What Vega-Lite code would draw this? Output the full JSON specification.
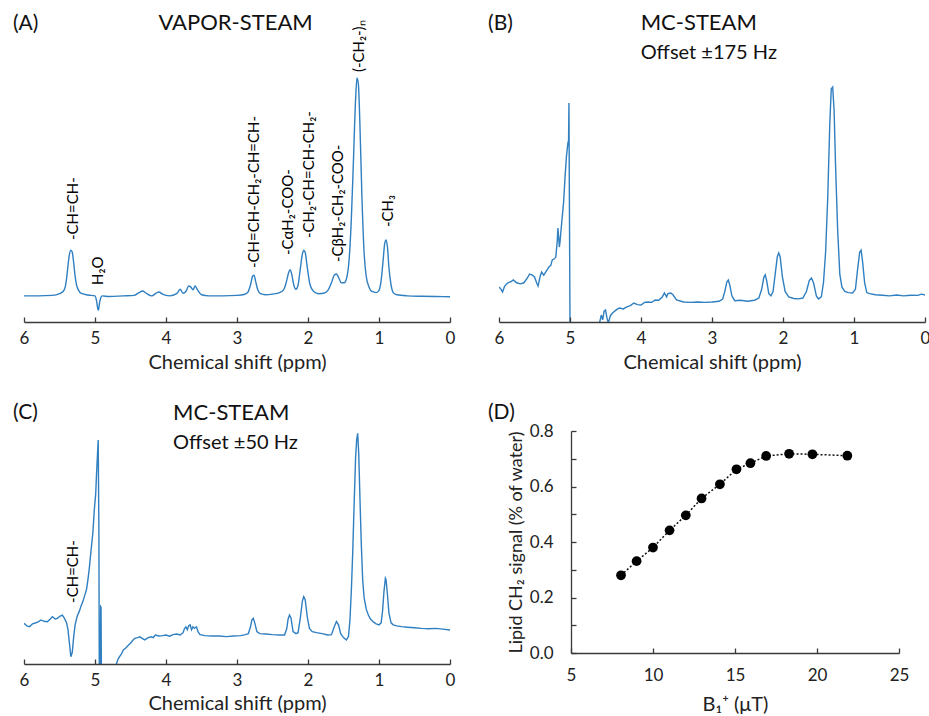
{
  "$schema": "https://vega.github.io/schema/vega-lite/v6.json",
  "padding": {"left": 12, "top": 5, "right": 0, "bottom": 0},
  "background": "white",
  "spacing": 29,
  "config": {
    "font": "Lato",
    "view": {"stroke": null},
    "axis": {"domainColor": "#3a3a3a", "tickColor": "#3a3a3a", "labelColor": "#222222", "titleColor": "#222222", "labelFontSize": 17, "titleFontSize": 20, "titleFontWeight": "normal", "grid": false, "domainWidth": 1.3, "tickWidth": 1.3, "labelFlush": false}
  },
  "datasets": {
    "specA": [
      {"ppm":6.0,"s":0.0},{"ppm":5.8,"s":0.0},{"ppm":5.6,"s":0.002},{"ppm":5.5,"s":0.01},{"ppm":5.45,"s":0.02},{"ppm":5.42,"s":0.04},{"ppm":5.4,"s":0.08},{"ppm":5.38,"s":0.14},{"ppm":5.36,"s":0.19},{"ppm":5.34,"s":0.21},{"ppm":5.32,"s":0.2},{"ppm":5.3,"s":0.15},{"ppm":5.28,"s":0.09},{"ppm":5.26,"s":0.05},{"ppm":5.23,"s":0.025},{"ppm":5.2,"s":0.012},{"ppm":5.1,"s":0.004},{"ppm":5.0,"s":0.0},{"ppm":4.98,"s":-0.02},{"ppm":4.96,"s":-0.06},{"ppm":4.95,"s":-0.065},{"ppm":4.94,"s":-0.04},{"ppm":4.92,"s":-0.01},{"ppm":4.9,"s":0.0},{"ppm":4.8,"s":-0.003},{"ppm":4.6,"s":0.0},{"ppm":4.45,"s":0.002},{"ppm":4.38,"s":0.015},{"ppm":4.33,"s":0.022},{"ppm":4.28,"s":0.012},{"ppm":4.2,"s":0.0},{"ppm":4.14,"s":0.012},{"ppm":4.1,"s":0.018},{"ppm":4.05,"s":0.008},{"ppm":3.95,"s":0.0},{"ppm":3.85,"s":0.01},{"ppm":3.8,"s":0.03},{"ppm":3.76,"s":0.012},{"ppm":3.72,"s":0.02},{"ppm":3.68,"s":0.045},{"ppm":3.65,"s":0.04},{"ppm":3.62,"s":0.028},{"ppm":3.59,"s":0.045},{"ppm":3.56,"s":0.03},{"ppm":3.5,"s":0.005},{"ppm":3.4,"s":0.0},{"ppm":3.2,"s":0.0},{"ppm":3.0,"s":0.002},{"ppm":2.9,"s":0.006},{"ppm":2.85,"s":0.015},{"ppm":2.81,"s":0.05},{"ppm":2.78,"s":0.09},{"ppm":2.76,"s":0.095},{"ppm":2.74,"s":0.07},{"ppm":2.71,"s":0.03},{"ppm":2.67,"s":0.01},{"ppm":2.6,"s":0.005},{"ppm":2.5,"s":0.008},{"ppm":2.4,"s":0.015},{"ppm":2.34,"s":0.03},{"ppm":2.3,"s":0.07},{"ppm":2.27,"s":0.11},{"ppm":2.25,"s":0.12},{"ppm":2.23,"s":0.1},{"ppm":2.2,"s":0.05},{"ppm":2.17,"s":0.03},{"ppm":2.14,"s":0.05},{"ppm":2.11,"s":0.12},{"ppm":2.08,"s":0.19},{"ppm":2.06,"s":0.21},{"ppm":2.04,"s":0.2},{"ppm":2.01,"s":0.13},{"ppm":1.97,"s":0.05},{"ppm":1.92,"s":0.02},{"ppm":1.85,"s":0.01},{"ppm":1.78,"s":0.012},{"ppm":1.72,"s":0.025},{"ppm":1.67,"s":0.06},{"ppm":1.63,"s":0.095},{"ppm":1.6,"s":0.1},{"ppm":1.57,"s":0.085},{"ppm":1.53,"s":0.06},{"ppm":1.49,"s":0.06},{"ppm":1.45,"s":0.09},{"ppm":1.42,"s":0.17},{"ppm":1.39,"s":0.35},{"ppm":1.36,"s":0.62},{"ppm":1.33,"s":0.9},{"ppm":1.31,"s":1.0},{"ppm":1.29,"s":0.97},{"ppm":1.27,"s":0.8},{"ppm":1.24,"s":0.45},{"ppm":1.21,"s":0.2},{"ppm":1.18,"s":0.09},{"ppm":1.14,"s":0.04},{"ppm":1.1,"s":0.02},{"ppm":1.04,"s":0.015},{"ppm":1.0,"s":0.025},{"ppm":0.97,"s":0.07},{"ppm":0.94,"s":0.17},{"ppm":0.92,"s":0.24},{"ppm":0.9,"s":0.257},{"ppm":0.88,"s":0.22},{"ppm":0.86,"s":0.13},{"ppm":0.83,"s":0.05},{"ppm":0.8,"s":0.015},{"ppm":0.75,"s":0.005},{"ppm":0.6,"s":0.0},{"ppm":0.4,"s":-0.002},{"ppm":0.2,"s":-0.003},{"ppm":0.0,"s":-0.004}
    ],
    "specB": [
      {"ppm":6.0,"s":0.041},{"ppm":5.97,"s":0.03},{"ppm":5.95,"s":0.018},{"ppm":5.92,"s":0.045},{"ppm":5.88,"s":0.059},{"ppm":5.83,"s":0.065},{"ppm":5.8,"s":0.073},{"ppm":5.75,"s":0.06},{"ppm":5.7,"s":0.055},{"ppm":5.65,"s":0.06},{"ppm":5.6,"s":0.082},{"ppm":5.57,"s":0.1},{"ppm":5.53,"s":0.095},{"ppm":5.5,"s":0.087},{"ppm":5.47,"s":0.06},{"ppm":5.45,"s":0.045},{"ppm":5.42,"s":0.09},{"ppm":5.4,"s":0.109},{"ppm":5.37,"s":0.095},{"ppm":5.35,"s":0.105},{"ppm":5.32,"s":0.12},{"ppm":5.3,"s":0.132},{"ppm":5.27,"s":0.14},{"ppm":5.25,"s":0.165},{"ppm":5.22,"s":0.17},{"ppm":5.2,"s":0.178},{"ppm":5.18,"s":0.25},{"ppm":5.17,"s":0.311},{"ppm":5.16,"s":0.27},{"ppm":5.15,"s":0.224},{"ppm":5.14,"s":0.25},{"ppm":5.13,"s":0.288},{"ppm":5.11,"s":0.36},{"ppm":5.09,"s":0.43},{"ppm":5.07,"s":0.545},{"ppm":5.05,"s":0.64},{"ppm":5.03,"s":0.7},{"ppm":5.02,"s":0.715},{"ppm":5.015,"s":0.885},{"ppm":5.0,"s":-0.135},{"ppm":4.6,"s":-0.135},{"ppm":4.58,"s":-0.118},{"ppm":4.56,"s":-0.088},{"ppm":4.54,"s":-0.11},{"ppm":4.52,"s":-0.07},{"ppm":4.5,"s":-0.065},{"ppm":4.48,"s":-0.1},{"ppm":4.46,"s":-0.125},{"ppm":4.43,"s":-0.09},{"ppm":4.4,"s":-0.079},{"ppm":4.37,"s":-0.07},{"ppm":4.33,"s":-0.06},{"ppm":4.3,"s":-0.056},{"ppm":4.25,"s":-0.06},{"ppm":4.2,"s":-0.051},{"ppm":4.15,"s":-0.045},{"ppm":4.1,"s":-0.033},{"ppm":4.05,"s":-0.04},{"ppm":4.0,"s":-0.042},{"ppm":3.95,"s":-0.03},{"ppm":3.9,"s":-0.028},{"ppm":3.85,"s":-0.03},{"ppm":3.8,"s":-0.019},{"ppm":3.75,"s":-0.02},{"ppm":3.7,"s":-0.005},{"ppm":3.67,"s":0.013},{"ppm":3.64,"s":-0.005},{"ppm":3.62,"s":0.01},{"ppm":3.58,"s":0.013},{"ppm":3.55,"s":0.005},{"ppm":3.5,"s":-0.019},{"ppm":3.4,"s":-0.028},{"ppm":3.3,"s":-0.03},{"ppm":3.2,"s":-0.028},{"ppm":3.1,"s":-0.03},{"ppm":3.0,"s":-0.028},{"ppm":2.9,"s":-0.025},{"ppm":2.85,"s":-0.015},{"ppm":2.82,"s":0.02},{"ppm":2.79,"s":0.065},{"ppm":2.77,"s":0.073},{"ppm":2.75,"s":0.05},{"ppm":2.72,"s":0.0},{"ppm":2.68,"s":-0.022},{"ppm":2.6,"s":-0.02},{"ppm":2.5,"s":-0.025},{"ppm":2.4,"s":-0.02},{"ppm":2.34,"s":-0.01},{"ppm":2.3,"s":0.03},{"ppm":2.27,"s":0.085},{"ppm":2.25,"s":0.096},{"ppm":2.23,"s":0.07},{"ppm":2.2,"s":0.01},{"ppm":2.17,"s":0.0},{"ppm":2.14,"s":0.02},{"ppm":2.11,"s":0.1},{"ppm":2.08,"s":0.18},{"ppm":2.06,"s":0.197},{"ppm":2.04,"s":0.18},{"ppm":2.01,"s":0.09},{"ppm":1.97,"s":0.02},{"ppm":1.92,"s":-0.005},{"ppm":1.85,"s":-0.012},{"ppm":1.78,"s":-0.014},{"ppm":1.72,"s":-0.01},{"ppm":1.67,"s":0.02},{"ppm":1.63,"s":0.07},{"ppm":1.6,"s":0.082},{"ppm":1.57,"s":0.06},{"ppm":1.53,"s":0.0},{"ppm":1.5,"s":-0.014},{"ppm":1.46,"s":-0.005},{"ppm":1.43,"s":0.06},{"ppm":1.4,"s":0.2},{"ppm":1.37,"s":0.45},{"ppm":1.34,"s":0.8},{"ppm":1.32,"s":0.95},{"ppm":1.3,"s":0.958},{"ppm":1.28,"s":0.85},{"ppm":1.26,"s":0.6},{"ppm":1.23,"s":0.3},{"ppm":1.2,"s":0.1},{"ppm":1.17,"s":0.04},{"ppm":1.13,"s":0.02},{"ppm":1.08,"s":0.015},{"ppm":1.02,"s":0.013},{"ppm":0.98,"s":0.03},{"ppm":0.95,"s":0.12},{"ppm":0.92,"s":0.2},{"ppm":0.9,"s":0.21},{"ppm":0.88,"s":0.16},{"ppm":0.85,"s":0.06},{"ppm":0.82,"s":0.015},{"ppm":0.78,"s":0.01},{"ppm":0.7,"s":0.005},{"ppm":0.6,"s":0.003},{"ppm":0.5,"s":0.0},{"ppm":0.4,"s":0.004},{"ppm":0.3,"s":0.0},{"ppm":0.2,"s":0.003},{"ppm":0.1,"s":0.002},{"ppm":0.05,"s":0.008},{"ppm":0.0,"s":0.004}
    ],
    "specC": [
      {"ppm":6.0,"s":0.038},{"ppm":5.96,"s":0.025},{"ppm":5.92,"s":0.021},{"ppm":5.88,"s":0.035},{"ppm":5.85,"s":0.038},{"ppm":5.8,"s":0.045},{"ppm":5.76,"s":0.055},{"ppm":5.72,"s":0.048},{"ppm":5.67,"s":0.046},{"ppm":5.63,"s":0.06},{"ppm":5.6,"s":0.072},{"ppm":5.56,"s":0.06},{"ppm":5.53,"s":0.063},{"ppm":5.49,"s":0.075},{"ppm":5.46,"s":0.08},{"ppm":5.43,"s":0.063},{"ppm":5.4,"s":0.04},{"ppm":5.38,"s":0.004},{"ppm":5.36,"s":-0.064},{"ppm":5.34,"s":-0.133},{"ppm":5.32,"s":-0.11},{"ppm":5.3,"s":-0.03},{"ppm":5.28,"s":0.03},{"ppm":5.25,"s":0.075},{"ppm":5.22,"s":0.1},{"ppm":5.2,"s":0.123},{"ppm":5.17,"s":0.15},{"ppm":5.15,"s":0.174},{"ppm":5.12,"s":0.21},{"ppm":5.1,"s":0.26},{"ppm":5.08,"s":0.32},{"ppm":5.06,"s":0.395},{"ppm":5.03,"s":0.5},{"ppm":5.01,"s":0.616},{"ppm":4.99,"s":0.7},{"ppm":4.98,"s":0.787},{"ppm":4.965,"s":0.9},{"ppm":4.955,"s":0.974},{"ppm":4.945,"s":0.5},{"ppm":4.94,"s":-0.185},{"ppm":4.925,"s":-0.185},{"ppm":4.92,"s":0.123},{"ppm":4.915,"s":0.12},{"ppm":4.91,"s":-0.185},{"ppm":4.71,"s":-0.185},{"ppm":4.69,"s":-0.16},{"ppm":4.67,"s":-0.141},{"ppm":4.63,"s":-0.12},{"ppm":4.6,"s":-0.098},{"ppm":4.57,"s":-0.09},{"ppm":4.55,"s":-0.082},{"ppm":4.52,"s":-0.07},{"ppm":4.5,"s":-0.064},{"ppm":4.47,"s":-0.05},{"ppm":4.44,"s":-0.039},{"ppm":4.4,"s":-0.035},{"ppm":4.37,"s":-0.031},{"ppm":4.33,"s":-0.04},{"ppm":4.3,"s":-0.047},{"ppm":4.25,"s":-0.035},{"ppm":4.21,"s":-0.031},{"ppm":4.18,"s":-0.035},{"ppm":4.15,"s":-0.022},{"ppm":4.1,"s":-0.027},{"ppm":4.05,"s":-0.025},{"ppm":4.0,"s":-0.022},{"ppm":3.95,"s":-0.028},{"ppm":3.9,"s":-0.02},{"ppm":3.85,"s":-0.017},{"ppm":3.8,"s":-0.022},{"ppm":3.76,"s":-0.01},{"ppm":3.74,"s":0.01},{"ppm":3.72,"s":0.02},{"ppm":3.7,"s":0.005},{"ppm":3.68,"s":0.025},{"ppm":3.66,"s":0.03},{"ppm":3.64,"s":0.005},{"ppm":3.62,"s":0.02},{"ppm":3.6,"s":0.012},{"ppm":3.57,"s":0.02},{"ppm":3.55,"s":-0.005},{"ppm":3.52,"s":-0.02},{"ppm":3.45,"s":-0.025},{"ppm":3.35,"s":-0.027},{"ppm":3.25,"s":-0.027},{"ppm":3.15,"s":-0.03},{"ppm":3.05,"s":-0.027},{"ppm":2.95,"s":-0.025},{"ppm":2.88,"s":-0.02},{"ppm":2.84,"s":-0.015},{"ppm":2.81,"s":0.02},{"ppm":2.79,"s":0.055},{"ppm":2.77,"s":0.063},{"ppm":2.75,"s":0.04},{"ppm":2.72,"s":-0.005},{"ppm":2.68,"s":-0.015},{"ppm":2.6,"s":-0.017},{"ppm":2.5,"s":-0.02},{"ppm":2.4,"s":-0.022},{"ppm":2.33,"s":-0.022},{"ppm":2.3,"s":0.01},{"ppm":2.28,"s":0.06},{"ppm":2.26,"s":0.08},{"ppm":2.24,"s":0.065},{"ppm":2.21,"s":-0.005},{"ppm":2.17,"s":-0.015},{"ppm":2.14,"s":-0.01},{"ppm":2.11,"s":0.06},{"ppm":2.08,"s":0.15},{"ppm":2.06,"s":0.174},{"ppm":2.04,"s":0.16},{"ppm":2.01,"s":0.07},{"ppm":1.98,"s":0.012},{"ppm":1.94,"s":-0.005},{"ppm":1.88,"s":-0.01},{"ppm":1.8,"s":-0.015},{"ppm":1.72,"s":-0.022},{"ppm":1.67,"s":-0.02},{"ppm":1.63,"s":0.02},{"ppm":1.6,"s":0.047},{"ppm":1.57,"s":0.03},{"ppm":1.54,"s":-0.015},{"ppm":1.5,"s":-0.035},{"ppm":1.46,"s":-0.047},{"ppm":1.43,"s":-0.03},{"ppm":1.41,"s":0.05},{"ppm":1.39,"s":0.2},{"ppm":1.37,"s":0.4},{"ppm":1.35,"s":0.65},{"ppm":1.33,"s":0.88},{"ppm":1.315,"s":0.974},{"ppm":1.3,"s":1.008},{"ppm":1.285,"s":0.9},{"ppm":1.27,"s":0.7},{"ppm":1.25,"s":0.45},{"ppm":1.23,"s":0.26},{"ppm":1.21,"s":0.17},{"ppm":1.18,"s":0.11},{"ppm":1.15,"s":0.08},{"ppm":1.12,"s":0.06},{"ppm":1.08,"s":0.045},{"ppm":1.04,"s":0.035},{"ppm":1.0,"s":0.03},{"ppm":0.97,"s":0.04},{"ppm":0.95,"s":0.1},{"ppm":0.93,"s":0.2},{"ppm":0.91,"s":0.268},{"ppm":0.9,"s":0.26},{"ppm":0.88,"s":0.18},{"ppm":0.86,"s":0.09},{"ppm":0.83,"s":0.04},{"ppm":0.8,"s":0.03},{"ppm":0.75,"s":0.025},{"ppm":0.68,"s":0.021},{"ppm":0.6,"s":0.018},{"ppm":0.5,"s":0.015},{"ppm":0.4,"s":0.012},{"ppm":0.3,"s":0.01},{"ppm":0.2,"s":0.012},{"ppm":0.1,"s":0.008},{"ppm":0.0,"s":0.004}
    ],
    "labA": [
      {"ppm":5.31,"s":0.256,"t":"-CH=CH-"},
      {"ppm":4.96,"s":0.05,"t":"H₂O"},
      {"ppm":2.76,"s":0.128,"t":"-CH=CH-CH₂-CH=CH-"},
      {"ppm":2.28,"s":0.187,"t":"-CαH₂-COO-"},
      {"ppm":1.98,"s":0.265,"t":"-CH₂-CH=CH-CH₂-"},
      {"ppm":1.58,"s":0.155,"t":"-CβH₂-CH₂-COO-"},
      {"ppm":1.28,"s":1.027,"t":"(-CH₂-)ₙ"},
      {"ppm":0.87,"s":0.316,"t":"-CH₃"}
    ],
    "labC": [
      {"ppm":5.31,"s":0.142,"t":"-CH=CH-"}
    ],
    "dD": [
      {"b":8.05,"v":0.28},{"b":9.0,"v":0.331},{"b":10.0,"v":0.38},{"b":11.01,"v":0.442},{"b":12.0,"v":0.496},{"b":12.96,"v":0.557},{"b":14.08,"v":0.608},{"b":15.09,"v":0.662},{"b":15.94,"v":0.684},{"b":16.9,"v":0.71},{"b":18.3,"v":0.718},{"b":19.72,"v":0.716},{"b":21.85,"v":0.711}
    ]
  },
  "vconcat": [
    {
      "bounds": "flush",
      "spacing": 49,
      "hconcat": [
        {
          "width": 426, "height": 317,
          "encoding": {
            "x": {"field": "ppm", "type": "quantitative", "scale": {"domain": [0, 6], "reverse": true, "nice": false, "zero": false}, "axis": {"title": "Chemical shift (ppm)", "values": [0,1,2,3,4,5,6], "format": "d", "tickSize": -5, "labelPadding": 13, "titlePadding": 6}},
            "y": {"field": "s", "type": "quantitative", "scale": {"domain": [-0.12, 1.335], "nice": false, "zero": false}, "axis": null}
          },
          "layer": [
            {"data": {"name": "specA"}, "mark": {"type": "line", "color": "#2f7fc1", "strokeWidth": 1.4, "interpolate": "monotone"}},
            {"data": {"name": "labA"}, "mark": {"type": "text", "angle": 270, "align": "left", "baseline": "middle", "fontSize": 15, "color": "#000000"}, "encoding": {"text": {"field": "t"}}},
            {"data": {"values": [{"ppm": 6.155, "s": 1.25, "t": "(A)"}]}, "mark": {"type": "text", "align": "left", "baseline": "middle", "fontSize": 21, "color": "#111111"}, "encoding": {"text": {"field": "t"}}},
            {"data": {"values": [{"ppm": 3.02, "s": 1.252, "t": "VAPOR-STEAM"}]}, "mark": {"type": "text", "align": "center", "baseline": "middle", "fontSize": 22, "color": "#111111"}, "encoding": {"text": {"field": "t"}}}
          ]
        },
        {
          "width": 426, "height": 317,
          "encoding": {
            "x": {"field": "ppm", "type": "quantitative", "scale": {"domain": [0, 6], "reverse": true, "nice": false, "zero": false}, "axis": {"title": "Chemical shift (ppm)", "values": [0,1,2,3,4,5,6], "format": "d", "tickSize": -5, "labelPadding": 13, "titlePadding": 6, "zindex": 1}},
            "y": {"field": "s", "type": "quantitative", "scale": {"domain": [-0.12, 1.335], "nice": false, "zero": false}, "axis": null}
          },
          "layer": [
            {"data": {"name": "specB"}, "mark": {"type": "line", "color": "#2f7fc1", "strokeWidth": 1.4, "clip": true}},
            {"data": {"values": [{"ppm": 6.154, "s": 1.25, "t": "(B)"}]}, "mark": {"type": "text", "align": "left", "baseline": "middle", "fontSize": 21, "color": "#111111"}, "encoding": {"text": {"field": "t"}}},
            {"data": {"values": [{"ppm": 4.005, "s": 1.252, "t": "MC-STEAM"}]}, "mark": {"type": "text", "align": "left", "baseline": "middle", "fontSize": 22, "color": "#111111"}, "encoding": {"text": {"field": "t"}}},
            {"data": {"values": [{"ppm": 4.005, "s": 1.114, "t": "Offset ±175 Hz"}]}, "mark": {"type": "text", "align": "left", "baseline": "middle", "fontSize": 20, "color": "#111111"}, "encoding": {"text": {"field": "t"}}}
          ]
        }
      ]
    },
    {
      "bounds": "flush",
      "spacing": 121,
      "hconcat": [
        {
          "width": 426, "height": 233,
          "encoding": {
            "x": {"field": "ppm", "type": "quantitative", "scale": {"domain": [0, 6], "reverse": true, "nice": false, "zero": false}, "axis": {"title": "Chemical shift (ppm)", "values": [0,1,2,3,4,5,6], "format": "d", "tickSize": -5, "labelPadding": 13, "titlePadding": 5, "zindex": 1}},
            "y": {"field": "s", "type": "quantitative", "scale": {"domain": [-0.17, 1.02], "nice": false, "zero": false}, "axis": null}
          },
          "layer": [
            {"data": {"name": "specC"}, "mark": {"type": "line", "color": "#2f7fc1", "strokeWidth": 1.4, "clip": true}},
            {"data": {"name": "labC"}, "mark": {"type": "text", "angle": 270, "align": "left", "baseline": "middle", "fontSize": 15, "color": "#000000"}, "encoding": {"text": {"field": "t"}}},
            {"data": {"values": [{"ppm": 6.155, "s": 1.112, "t": "(C)"}]}, "mark": {"type": "text", "align": "left", "baseline": "middle", "fontSize": 21, "color": "#111111"}, "encoding": {"text": {"field": "t"}}},
            {"data": {"values": [{"ppm": 3.9, "s": 1.114, "t": "MC-STEAM"}]}, "mark": {"type": "text", "align": "left", "baseline": "middle", "fontSize": 22, "color": "#111111"}, "encoding": {"text": {"field": "t"}}},
            {"data": {"values": [{"ppm": 3.9, "s": 0.961, "t": "Offset ±50 Hz"}]}, "mark": {"type": "text", "align": "left", "baseline": "middle", "fontSize": 20, "color": "#111111"}, "encoding": {"text": {"field": "t"}}}
          ]
        },
        {
          "width": 328, "height": 222,
          "encoding": {
            "x": {"field": "b", "type": "quantitative", "scale": {"domain": [5, 25], "nice": false, "zero": false}, "axis": {"title": "B₁⁺ (μT)", "values": [5,10,15,20,25], "tickSize": -5, "labelPadding": 19, "titlePadding": 11}},
            "y": {"field": "v", "type": "quantitative", "scale": {"domain": [0, 0.8], "nice": false, "zero": false}, "axis": {"title": "Lipid CH₂ signal (% of water)", "titleFontSize": 18, "values": [0,0.1,0.2,0.3,0.4,0.5,0.6,0.7,0.8], "labelExpr": "round(datum.value*10) % 2 == 0 ? format(datum.value, '.1f') : ''", "tickSize": -5, "labelPadding": 23, "titlePadding": 4}}
          },
          "layer": [
            {"data": {"name": "dD"}, "mark": {"type": "line", "color": "#111111", "strokeWidth": 1.5, "strokeDash": [2, 2]}},
            {"data": {"name": "dD"}, "mark": {"type": "point", "filled": true, "size": 95, "color": "#000000", "opacity": 1}},
            {"data": {"values": [{"b": -0.06, "v": 0.865, "t": "(D)"}]}, "mark": {"type": "text", "align": "left", "baseline": "middle", "fontSize": 21, "color": "#111111"}, "encoding": {"text": {"field": "t"}}}
          ]
        }
      ]
    }
  ]
}
